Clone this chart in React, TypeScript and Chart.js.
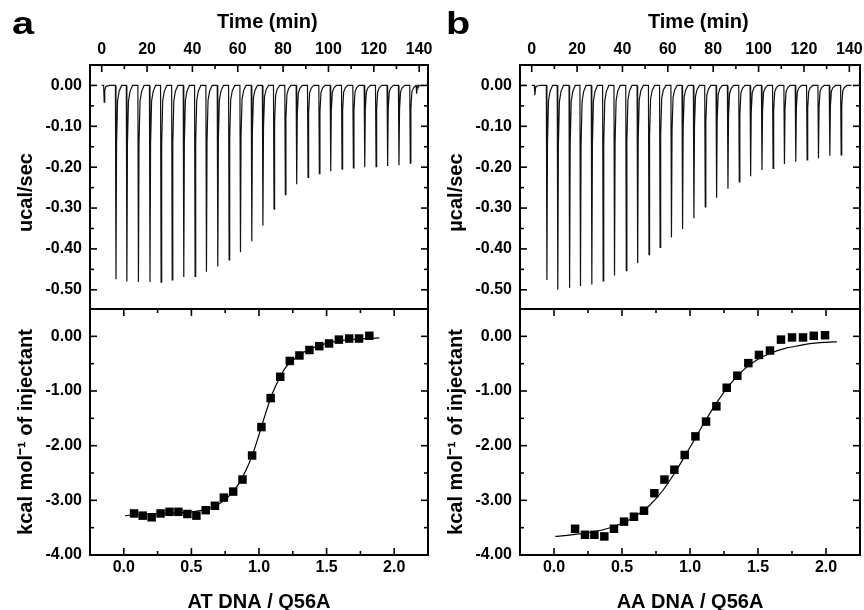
import React, { useEffect, useRef } from "react";
import { Chart, registerables } from "chart.js";

Chart.register(...registerables);

const FONT = '"Liberation Sans", Arial, Helvetica, sans-serif';
Chart.defaults.font.family = FONT;
Chart.defaults.color = "#000";

// ---------- Panel a: raw thermogram (injection time, min / peak depth, ucal/sec)
const A_INJ_TIME = [1.0, 6.2, 11.0, 16.1, 21.2, 26.1, 31.0, 36.1, 41.1, 46.1, 51.1, 56.1, 61.1, 66.1, 71.0, 75.9, 80.9, 85.9, 90.9, 95.9, 100.9, 105.9, 110.9, 115.9, 120.9, 126.0, 131.0, 136.0, 138.8];
const A_INJ_PEAK = [-0.041, -0.474, -0.48, -0.481, -0.481, -0.481, -0.476, -0.469, -0.467, -0.456, -0.443, -0.427, -0.408, -0.381, -0.343, -0.303, -0.267, -0.242, -0.225, -0.216, -0.21, -0.205, -0.202, -0.2, -0.199, -0.197, -0.195, -0.19, -0.02];

// ---------- Panel b: raw thermogram
const B_INJ_TIME = [1.3, 6.6, 11.4, 16.6, 21.4, 26.4, 31.4, 36.4, 41.6, 46.6, 51.6, 56.5, 61.5, 66.4, 71.4, 76.4, 81.4, 86.4, 91.4, 96.4, 101.4, 106.3, 111.3, 116.3, 121.3, 126.3, 131.3, 136.3];
const B_INJ_PEAK = [-0.024, -0.476, -0.5, -0.495, -0.491, -0.487, -0.478, -0.465, -0.453, -0.435, -0.414, -0.396, -0.372, -0.351, -0.325, -0.297, -0.275, -0.253, -0.236, -0.222, -0.207, -0.203, -0.192, -0.187, -0.182, -0.178, -0.172, -0.17];

// ---------- Panel a: integrated heats (molar ratio / kcal mol-1 of injectant)
const A_RATIO = [0.076, 0.14, 0.206, 0.272, 0.338, 0.404, 0.47, 0.537, 0.606, 0.674, 0.74, 0.809, 0.878, 0.949, 1.018, 1.086, 1.157, 1.228, 1.299, 1.373, 1.446, 1.518, 1.591, 1.667, 1.74, 1.816];
const A_HEAT = [-3.24, -3.28, -3.31, -3.24, -3.21, -3.21, -3.25, -3.28, -3.18, -3.1, -2.95, -2.84, -2.62, -2.18, -1.66, -1.13, -0.74, -0.45, -0.35, -0.25, -0.18, -0.13, -0.06, -0.04, -0.04, 0.01];
const A_FIT_X = [0.01, 0.1, 0.2, 0.3, 0.4, 0.5, 0.6, 0.7, 0.8, 0.85, 0.9, 0.95, 1.0, 1.05, 1.1, 1.15, 1.2, 1.25, 1.3, 1.4, 1.5, 1.6, 1.7, 1.8, 1.89];
const A_FIT_Y = [-3.28, -3.26, -3.25, -3.24, -3.23, -3.21, -3.17, -3.07, -2.87, -2.7, -2.47, -2.18, -1.8, -1.4, -1.04, -0.77, -0.56, -0.44, -0.34, -0.21, -0.13, -0.08, -0.055, -0.04, -0.03];

// ---------- Panel b: integrated heats
const B_RATIO = [0.155, 0.228, 0.297, 0.37, 0.441, 0.515, 0.588, 0.662, 0.738, 0.812, 0.885, 0.961, 1.04, 1.118, 1.194, 1.27, 1.348, 1.429, 1.507, 1.588, 1.669, 1.75, 1.831, 1.91, 1.993];
const B_HEAT = [-3.52, -3.63, -3.63, -3.66, -3.52, -3.39, -3.3, -3.19, -2.87, -2.62, -2.44, -2.17, -1.83, -1.56, -1.28, -0.94, -0.72, -0.49, -0.34, -0.26, -0.06, -0.02, -0.02, 0.01, 0.02];
const B_FIT_X = [0.01, 0.1, 0.2, 0.3, 0.4, 0.5, 0.6, 0.7, 0.8, 0.9, 1.0, 1.1, 1.2, 1.3, 1.4, 1.5, 1.6, 1.7, 1.8, 1.9, 2.0, 2.08];
const B_FIT_Y = [-3.66, -3.64, -3.61, -3.57, -3.51, -3.42, -3.29, -3.1, -2.82, -2.45, -2.03, -1.6, -1.2, -0.86, -0.6, -0.42, -0.3, -0.22, -0.17, -0.13, -0.11, -0.1];

// ---------- Tick values
const TIME_TICKS = [0, 20, 40, 60, 80, 100, 120, 140];
const TIME_MINOR = [10, 30, 50, 70, 90, 110, 130];
const POWER_TICKS = [0, -0.1, -0.2, -0.3, -0.4, -0.5];
const POWER_MINOR = [-0.05, -0.15, -0.25, -0.35, -0.45];
const RATIO_TICKS = [0, 0.5, 1, 1.5, 2];
const RATIO_MINOR = [0.25, 0.75, 1.25, 1.75];
const HEAT_TICKS = [0, -1, -2, -3, -4];
const HEAT_MINOR = [-0.5, -1.5, -2.5, -3.5];

// shape of one injection peak: [minutes after injection, fraction of peak depth]
const SPIKE_SHAPE = [[-0.15, 0], [0.1, 1], [0.35, 0.3], [0.8, 0.08], [1.5, 0.03], [2.6, 0]];

function buildTrace(times: number[], peaks: number[], tStart: number, tEnd: number) {
  const pts: { x: number; y: number }[] = [{ x: tStart, y: 0 }];
  times.forEach((t, i) => {
    SPIKE_SHAPE.forEach(([dt, f]) => pts.push({ x: t + dt, y: peaks[i] * f }));
  });
  pts.push({ x: tEnd, y: 0 });
  pts.sort((p, q) => p.x - q.x);
  return pts;
}

function xy(xs: number[], ys: number[]) {
  return xs.map((x, i) => ({ x, y: ys[i] }));
}

function frameTicks(o: any) {
  return {
    id: "frameTicks",
    afterDraw(chart: any) {
      const { ctx, chartArea: a, scales } = chart;
      const xs = scales.x;
      const ys = scales.y;
      ctx.save();
      ctx.strokeStyle = "#000";
      const line = (x1: number, y1: number, x2: number, y2: number) => {
        ctx.beginPath();
        ctx.moveTo(x1, y1);
        ctx.lineTo(x2, y2);
        ctx.stroke();
      };
      ctx.lineWidth = 1.6;
      const xt: [number[], number][] = [[o.xMajor, 7], [o.xMinor, 4]];
      for (const [vals, len] of xt) {
        for (const v of vals) {
          const p = xs.getPixelForValue(v);
          if (o.top) line(p, a.top, p, a.top + len);
          if (o.bottom) line(p, a.bottom, p, a.bottom - len);
        }
      }
      const yt: [number[], number][] = [[o.yMajor, 7], [o.yMinor, 4]];
      for (const [vals, len] of yt) {
        for (const v of vals) {
          const p = ys.getPixelForValue(v);
          line(a.left, p, a.left + len, p);
          line(a.right, p, a.right - len, p);
        }
      }
      ctx.lineWidth = 2;
      ctx.strokeRect(a.left, a.top, a.right - a.left, a.bottom - a.top);
      ctx.restore();
    },
  };
}

const TICK_FONT = { size: 16, weight: "bold" as const };
const TITLE_FONT = { size: 20, weight: "bold" as const };

function topConfig(times: number[], peaks: number[], tEnd: number, xMax: number, yTitle: string, axisW: number, titlePad: number): any {
  return {
    type: "scatter",
    data: {
      datasets: [
        {
          data: buildTrace(times, peaks, 0, tEnd),
          showLine: true,
          borderColor: "#111",
          borderWidth: 1.2,
          pointRadius: 0,
          tension: 0,
        },
      ],
    },
    options: {
      responsive: false,
      animation: false,
      devicePixelRatio: 1,
      layout: { autoPadding: false, padding: { left: 0, right: 4, top: 0, bottom: 1 } },
      plugins: { legend: { display: false }, tooltip: { enabled: false } },
      scales: {
        x: {
          type: "linear",
          position: "top",
          min: -5.16,
          max: xMax,
          grid: { display: false, drawTicks: false },
          border: { display: false },
          afterBuildTicks: (s: any) => {
            s.ticks = TIME_TICKS.map((v) => ({ value: v }));
          },
          afterFit: (s: any) => {
            s.height = 65;
            s.paddingLeft = 0;
            s.paddingRight = 0;
          },
          ticks: { font: TICK_FONT, padding: 6, maxRotation: 0, autoSkip: false, callback: (v: any) => String(v) },
          title: { display: true, text: "   Time (min)", font: TITLE_FONT, padding: { top: 10, bottom: 0 } },
        },
        y: {
          type: "linear",
          min: -0.547,
          max: 0.05,
          grid: { display: false, drawTicks: false },
          border: { display: false },
          afterBuildTicks: (s: any) => {
            s.ticks = POWER_TICKS.map((v) => ({ value: v }));
          },
          afterFit: (s: any) => {
            s.width = axisW;
            s.paddingTop = 0;
            s.paddingBottom = 0;
          },
          ticks: { font: TICK_FONT, padding: 8, autoSkip: false, callback: (v: any) => Number(v).toFixed(2) },
          title: { display: true, text: yTitle, font: TITLE_FONT, padding: { top: titlePad, bottom: 0 } },
        },
      },
    },
    plugins: [frameTicks({ xMajor: TIME_TICKS, xMinor: TIME_MINOR, yMajor: POWER_TICKS, yMinor: POWER_MINOR, top: true, bottom: false })],
  };
}

function bottomConfig(rx: number[], hy: number[], fx: number[], fy: number[], xTitle: string, axisW: number, titlePad: number): any {
  return {
    type: "scatter",
    data: {
      datasets: [
        {
          data: xy(rx, hy),
          pointStyle: "rect",
          pointRadius: 6,
          backgroundColor: "#000",
          borderColor: "#000",
          borderWidth: 0,
          showLine: false,
          order: 0,
        },
        {
          data: xy(fx, fy),
          showLine: true,
          borderColor: "#000",
          borderWidth: 1.2,
          pointRadius: 0,
          cubicInterpolationMode: "monotone",
          order: 1,
        },
      ],
    },
    options: {
      responsive: false,
      animation: false,
      devicePixelRatio: 1,
      layout: { autoPadding: false, padding: { left: 0, right: 4, top: 1, bottom: 0 } },
      plugins: { legend: { display: false }, tooltip: { enabled: false } },
      scales: {
        x: {
          type: "linear",
          position: "bottom",
          min: -0.25,
          max: 2.25,
          grid: { display: false, drawTicks: false },
          border: { display: false },
          afterBuildTicks: (s: any) => {
            s.ticks = RATIO_TICKS.map((v) => ({ value: v }));
          },
          afterFit: (s: any) => {
            s.height = 55;
            s.paddingLeft = 0;
            s.paddingRight = 0;
          },
          ticks: { font: TICK_FONT, padding: 3, maxRotation: 0, autoSkip: false, callback: (v: any) => Number(v).toFixed(1) },
          title: { display: true, text: xTitle, font: { size: 20, weight: "bold", lineHeight: 0.8 }, padding: { top: 0, bottom: 0 } },
        },
        y: {
          type: "linear",
          min: -4,
          max: 0.5,
          grid: { display: false, drawTicks: false },
          border: { display: false },
          afterBuildTicks: (s: any) => {
            s.ticks = HEAT_TICKS.map((v) => ({ value: v }));
          },
          afterFit: (s: any) => {
            s.width = axisW;
            s.paddingTop = 0;
            s.paddingBottom = 0;
          },
          ticks: { font: TICK_FONT, padding: 8, autoSkip: false, callback: (v: any) => Number(v).toFixed(2) },
          title: { display: true, text: "kcal mol\u207B\u00B9 of injectant", font: TITLE_FONT, padding: { top: titlePad, bottom: 0 } },
        },
      },
    },
    plugins: [frameTicks({ xMajor: RATIO_TICKS, xMinor: RATIO_MINOR, yMajor: HEAT_TICKS, yMinor: HEAT_MINOR, top: true, bottom: true })],
  };
}

function ChartCanvas({ make, left, top, width, height }: any) {
  const ref = useRef<HTMLCanvasElement>(null);
  useEffect(() => {
    const chart = new Chart(ref.current as HTMLCanvasElement, make());
    return () => chart.destroy();
  }, []);
  return (
    <canvas
      ref={ref}
      width={width}
      height={height}
      style={{ position: "absolute", left, top, width, height, display: "block" }}
    />
  );
}

const letterStyle: any = {
  position: "absolute",
  top: 8,
  fontFamily: FONT,
  fontWeight: "bold",
  fontSize: 31,
  lineHeight: "31px",
  transform: "scaleX(1.28)",
  transformOrigin: "0 0",
  color: "#000",
};

export default function App() {
  return (
    <div style={{ position: "absolute", left: 0, top: 0, width: 864, height: 610, background: "#fff", overflow: "hidden" }}>
      <ChartCanvas
        left={0}
        top={0}
        width={432}
        height={310}
        make={() => topConfig(A_INJ_TIME, A_INJ_PEAK, 139.5, 143.9, "ucal/sec  ", 90, 14)}
      />
      <ChartCanvas
        left={0}
        top={308}
        width={432}
        height={302}
        make={() => bottomConfig(A_RATIO, A_HEAT, A_FIT_X, A_FIT_Y, "AT DNA / Q56A", 90, 14)}
      />
      <ChartCanvas
        left={432}
        top={0}
        width={432}
        height={310}
        make={() => topConfig(B_INJ_TIME, B_INJ_PEAK, 141, 144.7, "\u00B5cal/sec  ", 88, 12)}
      />
      <ChartCanvas
        left={432}
        top={308}
        width={432}
        height={302}
        make={() => bottomConfig(B_RATIO, B_HEAT, B_FIT_X, B_FIT_Y, "AA DNA / Q56A", 88, 12)}
      />
      <div style={{ ...letterStyle, left: 12 }}>a</div>
      <div style={{ ...letterStyle, left: 446 }}>b</div>
    </div>
  );
}
